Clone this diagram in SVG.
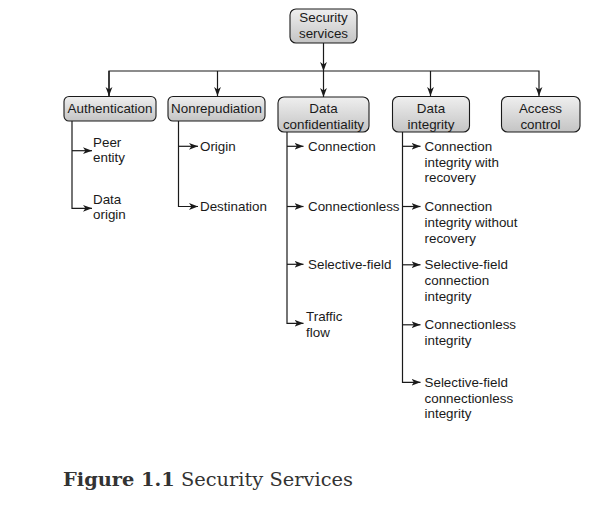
<svg xmlns="http://www.w3.org/2000/svg" width="609" height="518" viewBox="0 0 609 518">
<style>
.box{stroke:#1a1a1a;stroke-width:1.1;fill:url(#g)}
.t{font-family:"Liberation Sans",Arial,sans-serif;font-size:13.4px;fill:#1a1a1a}
.c{text-anchor:middle}
.ln{stroke:#1a1a1a;stroke-width:1.2;fill:none}
.cap{font-family:"DejaVu Serif",Georgia,serif;font-size:19.4px;fill:#333}
</style>
<defs>
<linearGradient id="g" x1="0" y1="0" x2="0" y2="1">
<stop offset="0" stop-color="#efefef"/>
<stop offset="1" stop-color="#c4c4c4"/>
</linearGradient>
<marker id="a" markerUnits="userSpaceOnUse" markerWidth="10" markerHeight="8" refX="9" refY="4" orient="auto">
<path d="M0,0.6 L9,4 L0,7.4 L2.4,4 z" fill="#1a1a1a"/>
</marker>
</defs>
<rect width="609" height="518" fill="#fff"/>

<g id="connectors" class="ln">
<line x1="323.5" y1="43" x2="323.5" y2="71" marker-end="url(#a)"/>
<path d="M109,96 V71 H539 V96" marker-end="url(#a)"/>
<line x1="109" y1="71" x2="109" y2="96" marker-end="url(#a)"/>
<line x1="217.5" y1="71" x2="217.5" y2="96" marker-end="url(#a)"/>
<line x1="323.5" y1="71" x2="323.5" y2="97" marker-end="url(#a)"/>
<line x1="430.5" y1="71" x2="430.5" y2="96" marker-end="url(#a)"/>
<!-- Authentication -->
<path d="M72,121 V208.3 H92" marker-end="url(#a)"/>
<line x1="72" y1="150.7" x2="92" y2="150.7" marker-end="url(#a)"/>
<!-- Nonrepudiation -->
<path d="M178.5,121 V206.5 H198" marker-end="url(#a)"/>
<line x1="178.5" y1="146.3" x2="198" y2="146.3" marker-end="url(#a)"/>
<!-- Data confidentiality -->
<path d="M287,132 V323.3 H303.5" marker-end="url(#a)"/>
<line x1="287" y1="146.3" x2="303.5" y2="146.3" marker-end="url(#a)"/>
<line x1="287" y1="206.5" x2="303.5" y2="206.5" marker-end="url(#a)"/>
<line x1="287" y1="264.3" x2="303.5" y2="264.3" marker-end="url(#a)"/>
<!-- Data integrity -->
<path d="M402.5,132 V382.3 H420.5" marker-end="url(#a)"/>
<line x1="402.5" y1="146.3" x2="420.5" y2="146.3" marker-end="url(#a)"/>
<line x1="402.5" y1="206.5" x2="420.5" y2="206.5" marker-end="url(#a)"/>
<line x1="402.5" y1="264.8" x2="420.5" y2="264.8" marker-end="url(#a)"/>
<line x1="402.5" y1="324.8" x2="420.5" y2="324.8" marker-end="url(#a)"/>
</g>

<g id="security-services">
<rect class="box" x="290" y="9" width="67" height="34" rx="6"/>
<text class="t c" x="323.5" y="22.3">Security</text>
<text class="t c" x="323.5" y="38">services</text>
</g>
<g id="authentication">
<rect class="box" x="64" y="96.5" width="92" height="24.5" rx="5"/>
<text class="t c" x="110" y="113.3">Authentication</text>
</g>
<g id="nonrepudiation">
<rect class="box" x="168" y="96.5" width="97" height="24.5" rx="5"/>
<text class="t c" x="216.5" y="113.3">Nonrepudiation</text>
</g>
<g id="data-confidentiality">
<rect class="box" x="278" y="97" width="91" height="35" rx="6"/>
<text class="t c" x="323.5" y="112.8">Data</text>
<text class="t c" x="323.5" y="128.5">confidentiality</text>
</g>
<g id="data-integrity">
<rect class="box" x="392.5" y="96.5" width="77" height="35.5" rx="6"/>
<text class="t c" x="431" y="112.8">Data</text>
<text class="t c" x="431" y="128.5">integrity</text>
</g>
<g id="access-control">
<rect class="box" x="501.5" y="96.5" width="78.5" height="35.5" rx="6"/>
<text class="t c" x="540.5" y="112.8">Access</text>
<text class="t c" x="540.5" y="128.5">control</text>
</g>

<g id="peer-entity"><text class="t" x="93" y="146.7">Peer</text><text class="t" x="93" y="162.4">entity</text></g>
<g id="data-origin"><text class="t" x="93" y="203.5">Data</text><text class="t" x="93" y="219.2">origin</text></g>
<g id="origin"><text class="t" x="200" y="151">Origin</text></g>
<g id="destination"><text class="t" x="200" y="211.2">Destination</text></g>
<g id="connection"><text class="t" x="308" y="151">Connection</text></g>
<g id="connectionless"><text class="t" x="308" y="211.2">Connectionless</text></g>
<g id="selective-field"><text class="t" x="308" y="269">Selective-field</text></g>
<g id="traffic-flow"><text class="t" x="306" y="321">Traffic</text><text class="t" x="306" y="336.7">flow</text></g>
<g id="conn-int-recovery"><text class="t" x="424.5" y="151">Connection</text><text class="t" x="424.5" y="166.7">integrity with</text><text class="t" x="424.5" y="182.4">recovery</text></g>
<g id="conn-int-no-recovery"><text class="t" x="424.5" y="211.2">Connection</text><text class="t" x="424.5" y="226.9">integrity without</text><text class="t" x="424.5" y="242.6">recovery</text></g>
<g id="sel-conn-int"><text class="t" x="424.5" y="269.3">Selective-field</text><text class="t" x="424.5" y="285">connection</text><text class="t" x="424.5" y="300.7">integrity</text></g>
<g id="connless-int"><text class="t" x="424.5" y="329.3">Connectionless</text><text class="t" x="424.5" y="345">integrity</text></g>
<g id="sel-connless-int"><text class="t" x="424.5" y="386.8">Selective-field</text><text class="t" x="424.5" y="402.5">connectionless</text><text class="t" x="424.5" y="418.2">integrity</text></g>

<text class="cap" x="63" y="486"><tspan font-weight="bold">Figure 1.1</tspan> Security Services</text>
</svg>
